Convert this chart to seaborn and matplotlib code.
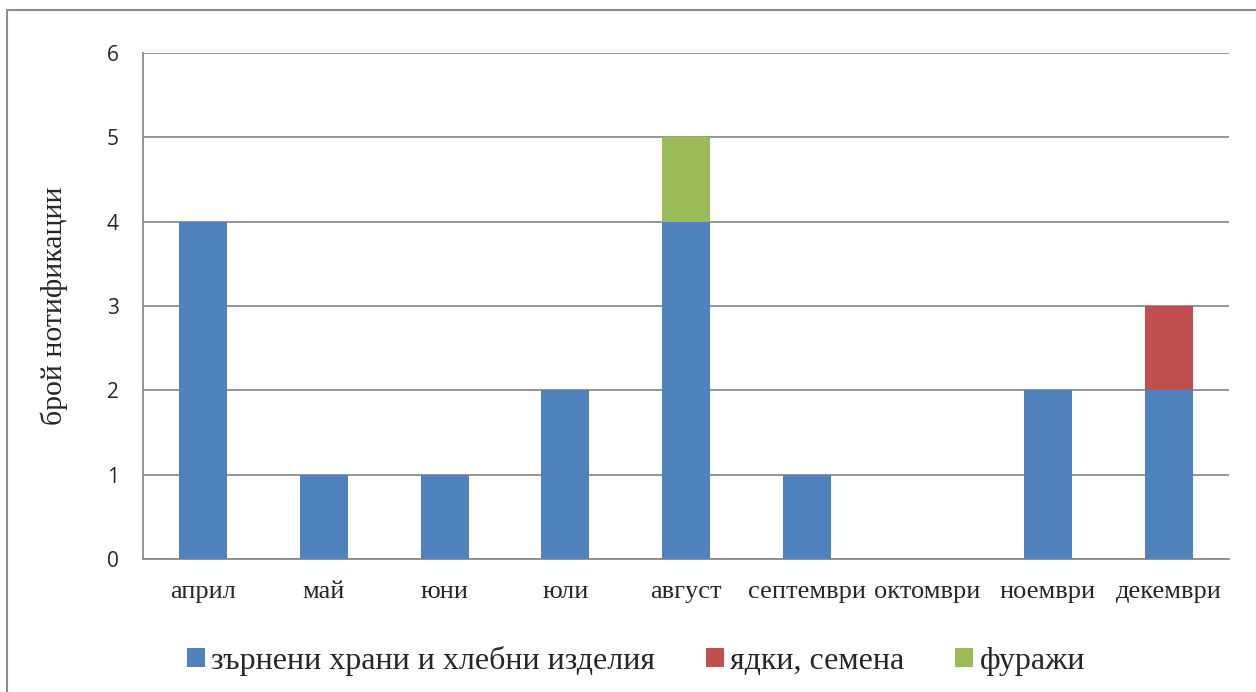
import numpy as np
import pandas as pd
import matplotlib
matplotlib.use("Agg")
import matplotlib.pyplot as plt
import seaborn as sns

months = ["април", "май", "юни", "юли", "август", "септември", "октомври", "ноември", "декември"]
grain = [4, 1, 1, 2, 4, 1, 0, 2, 2]       # зърнени храни и хлебни изделия
nuts = [0, 0, 0, 0, 0, 0, 0, 0, 1]        # ядки, семена
fodder = [0, 0, 0, 0, 1, 0, 0, 0, 0]      # фуражи
series_names = ["зърнени храни и хлебни изделия", "ядки, семена", "фуражи"]
colors = ["#4F81BD", "#C0504D", "#9BBB59"]
y_label = "брой нотификации"

sns.set_style("white")
serif = ["Liberation Serif", "DejaVu Serif"]
sans = ["Open Sans", "DejaVu Sans"]

W, H = 1256, 692
fig = plt.figure(figsize=(W / 100, H / 100), dpi=100)
ax = fig.add_axes([143 / W, 1 - 559 / H, (1229 - 143) / W, (559 - 53) / H])

df = pd.DataFrame({"month": months, "grain": grain, "nuts": nuts, "fodder": fodder})
bottom = np.zeros(len(months))
for col, name, c in zip(["grain", "nuts", "fodder"], series_names, colors):
    sns.barplot(data=df, x="month", y=col, color=c, saturation=1, width=0.4, bottom=bottom,
                ax=ax, label=name, zorder=3, linewidth=0, edgecolor="none")
    bottom = bottom + df[col].values

ax.set_xlim(-0.5, len(months) - 0.5)
ax.set_ylim(0, 6)
ax.set_yticks(range(0, 7))
ax.yaxis.grid(True, color="#8c8c8c", linewidth=1.3, zorder=0)
ax.xaxis.grid(False)

for s in ["top", "right"]:
    ax.spines[s].set_visible(False)
for s in ["left", "bottom"]:
    ax.spines[s].set_color("#8c8c8c")
    ax.spines[s].set_linewidth(1.3)

# x ticks at category boundaries, labels in between
ax.set_xticks(np.arange(-0.5, len(months), 1.0))
ax.set_xticklabels([])
ax.set_xticks(np.arange(len(months)), minor=True)
ax.set_xticklabels(months, minor=True, family=serif, fontsize=19)
ax.tick_params(axis="x", which="major", length=4.5, width=1.3, color="#8c8c8c", direction="out")
ax.tick_params(axis="x", which="minor", length=0, pad=16)
ax.tick_params(axis="y", length=6.5, width=1.3, color="#8c8c8c", direction="out", pad=11)
for t in ax.get_yticklabels():
    t.set_family(sans)
    t.set_fontsize(15)

ax.set_xlabel("")
ax.set_ylabel(y_label, family=serif, fontsize=21.5, labelpad=28)

handles, labels = ax.get_legend_handles_labels()
if ax.get_legend() is not None:
    ax.get_legend().remove()
leg = fig.legend(handles, labels, loc="center", bbox_to_anchor=(636 / W, 1 - 661 / H), ncol=3,
                 frameon=False, prop={"family": serif, "size": 23}, handlelength=0.55,
                 handleheight=0.55, handletextpad=0.2, columnspacing=1.6)

# outer chart border (left and top visible)
fig.add_artist(plt.Line2D([7 / W, 7 / W], [0, 1 - 10 / H], transform=fig.transFigure,
                          color="#8c8c8c", linewidth=1.5))
fig.add_artist(plt.Line2D([7 / W, 1], [1 - 10 / H, 1 - 10 / H], transform=fig.transFigure,
                          color="#8c8c8c", linewidth=1.5))

fig.savefig("out.png", dpi=100)
